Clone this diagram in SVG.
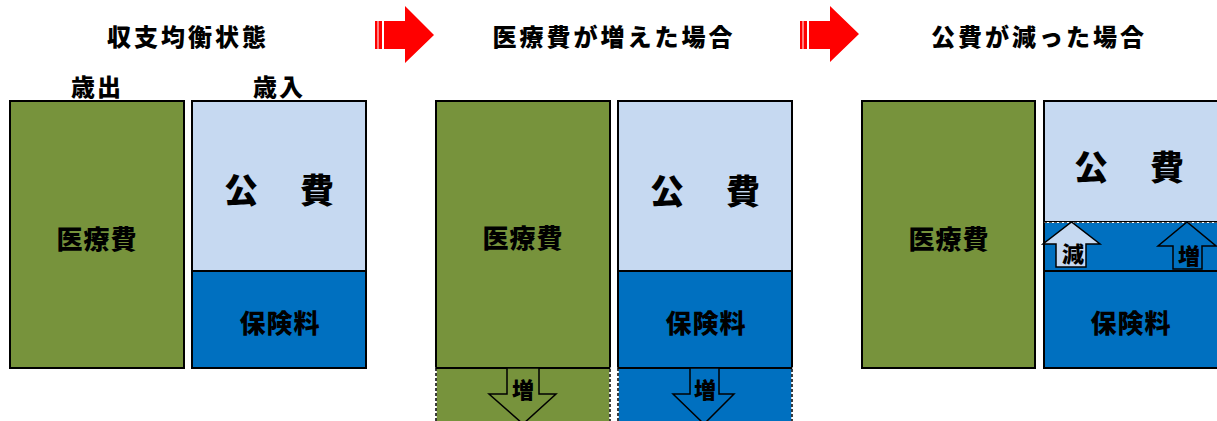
<svg xmlns="http://www.w3.org/2000/svg" width="1217" height="421" viewBox="0 0 1217 421">
<defs>
<style>
.t{font-family:"Noto Sans CJK JP","Noto Sans CJK SC",sans-serif;font-weight:900;fill:#000;text-anchor:middle;dominant-baseline:central}
.title{font-size:24px;letter-spacing:3px}
.hd{font-size:24px;letter-spacing:2px}
.lb{font-size:26px;letter-spacing:1px}
.kh{font-size:34px;letter-spacing:4px}
.sm{font-size:22px}
.g{fill:#77933c;stroke:#000;stroke-width:2}
.lbx{fill:#c6d9f1;stroke:#000;stroke-width:2}
.db{fill:#0070c0;stroke:#000;stroke-width:2}
.red{fill:#ff0000}
.ext{stroke:#000;stroke-width:1.5;stroke-dasharray:3 2}
.arr{stroke:#000;stroke-width:1.5}
</style>
</defs>
<rect width="1217" height="421" fill="#fff"/>

<g id="connectors">
  <g id="redarrow1" class="red">
    <rect x="375" y="21" width="2.5" height="28"/>
    <rect x="378.5" y="21" width="3.5" height="28"/>
    <polygon points="384,21 405,21 405,6 434,35 405,63 405,49 384,49"/>
  </g>
  <g id="redarrow2" class="red">
    <rect x="800" y="21" width="2.5" height="28"/>
    <rect x="803.5" y="21" width="3.5" height="28"/>
    <polygon points="809,21 830,21 830,6 859,34 830,62 830,49 809,49"/>
  </g>
</g>

<g id="panel1">
  <text class="t title" x="188" y="35">収支均衡状態</text>
  <text class="t hd" x="97" y="85">歳出</text>
  <text class="t hd" x="279" y="85">歳入</text>
  <g id="p1-expense">
    <rect class="g" x="10" y="101" width="174" height="267"/>
    <text class="t lb" x="97" y="237">医療費</text>
  </g>
  <g id="p1-public">
    <rect class="lbx" x="192" y="101" width="174" height="170"/>
    <text class="t kh" x="281" y="188">公　費</text>
  </g>
  <g id="p1-premium">
    <rect class="db" x="192" y="271" width="174" height="97"/>
    <text class="t lb" x="280" y="321">保険料</text>
  </g>
</g>

<g id="panel2">
  <text class="t title" x="614" y="35">医療費が増えた場合</text>
  <g id="p2-expense">
    <rect class="g" x="436" y="101" width="174" height="267"/>
    <text class="t lb" x="523" y="236">医療費</text>
  </g>
  <g id="p2-expense-ext">
    <rect x="436" y="368" width="174" height="60" fill="#77933c" stroke="#fff" stroke-width="1.5"/>
    <rect class="ext" x="436" y="368" width="174" height="60" fill="none"/>
    <line x1="436" y1="368" x2="610" y2="368" stroke="#000" stroke-width="2"/>
    <polygon class="arr" fill="#77933c" points="507,368 539,368 539,394 556,394 523,424 489,394 507,394"/>
    <text class="t sm" x="523" y="388">増</text>
  </g>
  <g id="p2-public">
    <rect class="lbx" x="618" y="101" width="174" height="170"/>
    <text class="t kh" x="707" y="189">公　費</text>
  </g>
  <g id="p2-premium">
    <rect class="db" x="618" y="271" width="174" height="97"/>
    <text class="t lb" x="706" y="321">保険料</text>
  </g>
  <g id="p2-premium-ext">
    <rect x="618" y="368" width="174" height="60" fill="#0070c0" stroke="#fff" stroke-width="1.5"/>
    <rect class="ext" x="618" y="368" width="174" height="60" fill="none"/>
    <line x1="618" y1="368" x2="792" y2="368" stroke="#000" stroke-width="2"/>
    <polygon class="arr" fill="#0070c0" points="690,368 719,368 719,394 734,394 704,424 673,394 690,394"/>
    <text class="t sm" x="705" y="388">増</text>
  </g>
</g>

<g id="panel3">
  <text class="t title" x="1039" y="35">公費が減った場合</text>
  <g id="p3-expense">
    <rect class="g" x="862" y="101" width="173" height="267"/>
    <text class="t lb" x="949" y="237">医療費</text>
  </g>
  <g id="p3-public">
    <rect class="lbx" x="1044" y="101" width="180" height="121"/>
    <text class="t kh" x="1131" y="165">公　費</text>
  </g>
  <g id="p3-premium">
    <rect class="db" x="1044" y="222" width="180" height="146"/>
    <line x1="1044" y1="222.5" x2="1217" y2="222.5" stroke="#fff" stroke-width="1.2"/>
    <line x1="1044" y1="222.5" x2="1217" y2="222.5" stroke="#555" stroke-width="1.2" stroke-dasharray="3 2"/>
    <line x1="1044" y1="271" x2="1217" y2="271" stroke="#000" stroke-width="2"/>
    <text class="t lb" x="1131" y="321">保険料</text>
  </g>
  <g id="p3-decrease">
    <polygon class="arr" fill="#c6d9f1" points="1056,267 1086,267 1086,244 1100,244 1071.5,222 1043,244 1056,244"/>
    <text class="t sm" x="1073" y="252">減</text>
  </g>
  <g id="p3-increase">
    <polygon class="arr" fill="#0070c0" points="1173,269 1202,269 1202,246 1216,246 1187,222 1158,246 1173,246"/>
    <text class="t sm" x="1189" y="254">増</text>
  </g>
</g>
</svg>
